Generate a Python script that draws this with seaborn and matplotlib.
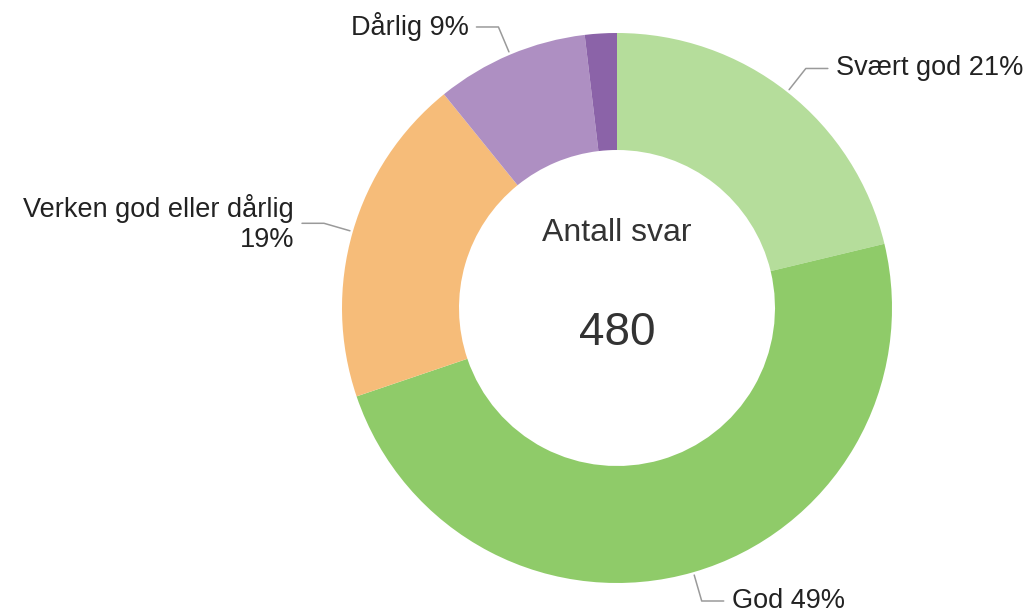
import numpy as np
import matplotlib.pyplot as plt
import seaborn as sns

# svarfordeling (480 svar)
kategorier = ['Svært god', 'God', 'Verken god eller dårlig', 'Dårlig', 'Svært dårlig']
antall = [102, 233, 93, 43, 9]
etiketter = ['Svært god 21%', 'God 49%', 'Verken god eller dårlig\n19%', 'Dårlig 9%', None]
farger = ['#b5dd9b', '#8fcb69', '#f6bc79', '#ae8fc2', '#8b63a8']

sns.set_theme(style='white')
plt.rcParams['font.family'] = ['Liberation Sans', 'DejaVu Sans']

fig = plt.figure(figsize=(10.3, 6.16), dpi=100)
ax = fig.add_axes([0, 0, 1, 1])

sentrum = (617, 308)
R = 275
wedges, _ = ax.pie(antall, colors=sns.color_palette(farger), startangle=90,
                   counterclock=False, center=sentrum, radius=R,
                   wedgeprops=dict(width=117, linewidth=0))

ax.set_xlim(0, 1030)
ax.set_ylim(0, 616)
ax.set_aspect('equal')
ax.axis('off')

# etiketter med knekklinjer
for w, tekst in zip(wedges, etiketter):
    if tekst is None:
        continue
    vinkel = np.deg2rad((w.theta1 + w.theta2) / 2)
    c, s = np.cos(vinkel), np.sin(vinkel)
    side = 1 if c >= 0 else -1
    p0 = (sentrum[0] + (R + 3) * c, sentrum[1] + (R + 3) * s)
    p1 = (sentrum[0] + (R + 30) * c, sentrum[1] + (R + 30) * s)
    p2 = (p1[0] + side * 22, p1[1])
    ax.plot([p0[0], p1[0], p2[0]], [p0[1], p1[1], p2[1]], color='#9a9a9a', lw=1.1)
    ax.text(p2[0] + side * 8, p2[1], tekst, ha='left' if side > 0 else 'right',
            va='center', multialignment='right', fontsize=19.5, color='#222222')

ax.text(sentrum[0], 375, 'Antall svar', ha='center', va='baseline', fontsize=23, color='#333333')
ax.text(sentrum[0], 271, str(sum(antall)), ha='center', va='baseline', fontsize=33, color='#333333')

fig.savefig('out.png', dpi=100, facecolor='white')
